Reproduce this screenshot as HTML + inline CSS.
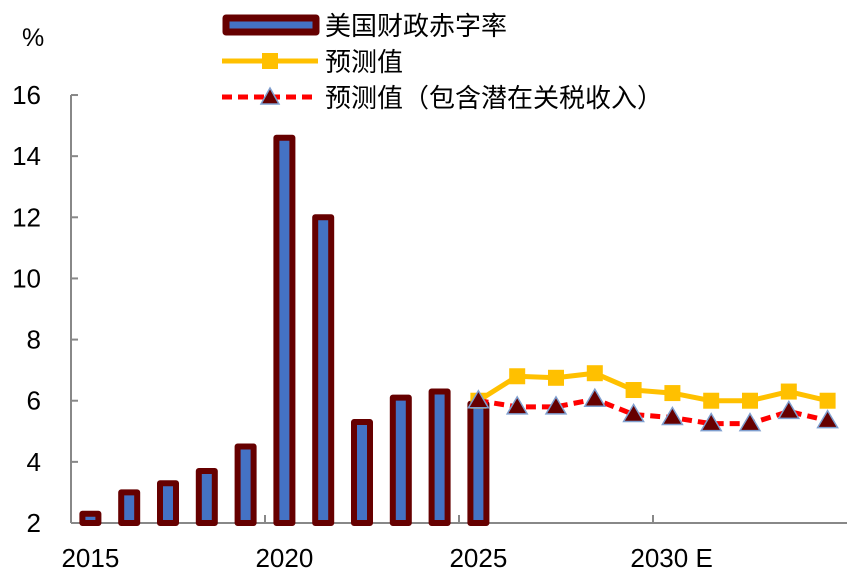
<!DOCTYPE html>
<html><head><meta charset="utf-8"><style>
body{margin:0;background:#fff}
svg{display:block;font-family:"Liberation Sans","Noto Sans CJK SC",sans-serif}
</style></head><body>
<svg id="c" width="858" height="573">
<g id="legend">
<rect x="226" y="18" width="90" height="14" fill="#4472C4" stroke="#660000" stroke-width="7" stroke-linejoin="round"/>
<text x="325" y="35" font-size="26">美国财政赤字率</text>
<line x1="222" y1="61" x2="318" y2="61" stroke="#FFC000" stroke-width="5"/>
<rect x="262" y="53" width="16" height="16" fill="#FFC000"/>
<text x="325" y="71" font-size="26">预测值</text>
<line x1="222" y1="97" x2="318" y2="97" stroke="#FF0000" stroke-width="5" stroke-dasharray="10,6"/>
<polygon points="270,88 279,104 261,104" fill="#660000" stroke="#7F9FCF" stroke-width="1.5"/>
<text x="325" y="107" font-size="26">预测值（包含潜在关税收入）</text>
</g>
<text x="22" y="46" font-size="25">%</text>
</svg>
<script>
const yTicks=[2,4,6,8,10,12,14,16];
const xLabels=["2015","2020","2025","2030  E"];
const deficitYears=[2015,2016,2017,2018,2019,2020,2021,2022,2023,2024,2025];
const deficitValues=[2.4,3.1,3.4,3.8,4.6,14.7,12.1,5.4,6.2,6.4,6.0];
const forecastYears=[2025,2026,2027,2028,2029,2030,2031,2032,2033,2034];
const forecastValues=[6.0,6.8,6.75,6.9,6.35,6.25,6.0,6.0,6.3,6.0];
const tariffValues=[6.0,5.8,5.8,6.05,5.55,5.45,5.25,5.25,5.65,5.35];

const NS="http://www.w3.org/2000/svg",svg=document.getElementById('c');
const X0=71,CW=38.8,Y0=523,PU=30.57;
const x=yr=>X0+CW/2+(yr-2015)*CW;
const y=v=>Y0-(v-2)*PU;
function mk(t,a,p){const e=document.createElementNS(NS,t);for(const k in a)e.setAttribute(k,a[k]);(p||svg).appendChild(e);return e;}

const ax=mk('line',{x1:X0,y1:Y0,x2:X0+20*CW,y2:Y0,stroke:'#888','stroke-width':2});


const ay=mk('line',{x1:X0,y1:y(16),x2:X0,y2:Y0,stroke:'#888','stroke-width':2});


yTicks.forEach(v=>{
  const t=mk('line',{x1:X0,y1:y(v),x2:X0+7,y2:y(v),stroke:'#888','stroke-width':2});
  
  
  const l=mk('text',{x:41,y:y(v)+9,'font-size':26,'text-anchor':'end'});l.textContent=v;
  
  
});
[5,10,15].forEach(i=>{
  const t=mk('line',{x1:X0+i*CW,y1:Y0,x2:X0+i*CW,y2:Y0-8,stroke:'#888','stroke-width':2});
  
  
});
xLabels.forEach((s,i)=>{
  const l=mk('text',{x:x(2015+i*5)+(i==3?-42:0),y:567,'font-size':26,'text-anchor':i==3?'start':'middle','xml:space':'preserve'});l.textContent=s;
  
  
});
deficitValues.forEach((v,i)=>{
  const cx=x(deficitYears[i]),top=y(v)+3;
  const b=mk('rect',{x:cx-8,y:top,width:16,height:Y0-top,fill:'#4472C4',stroke:'#660000','stroke-width':6,'stroke-linejoin':'round'});
  
  
});
const fl=mk('polyline',{points:forecastValues.map((v,i)=>x(forecastYears[i])+','+y(v)).join(' '),fill:'none',stroke:'#FFC000','stroke-width':5});


forecastValues.forEach((v,i)=>{
  const m=mk('rect',{x:x(forecastYears[i])-8,y:y(v)-8,width:16,height:16,fill:'#FFC000'});
  
  
});
const tl=mk('polyline',{points:tariffValues.map((v,i)=>x(forecastYears[i])+','+y(v)).join(' '),fill:'none',stroke:'#FF0000','stroke-width':5,'stroke-dasharray':'10,6'});


tariffValues.forEach((v,i)=>{
  const cx=x(forecastYears[i]),cy=y(v);
  const m=mk('polygon',{points:`${cx},${cy-10} ${cx+10},${cy+7} ${cx-10},${cy+7}`,fill:'#660000',stroke:'#7F9FCF','stroke-width':1.5});
  
  
});
svg.appendChild(document.getElementById('legend'));
</script>
</body></html>
